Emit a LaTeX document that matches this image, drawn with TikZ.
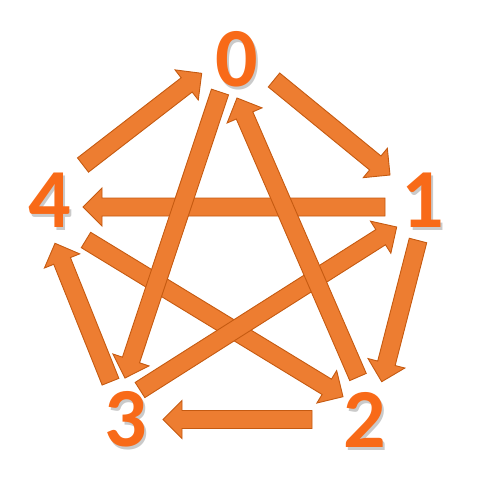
\documentclass[tikz,border=0pt]{standalone}
\usepackage{fontspec}
\setmainfont{Carlito}
\usetikzlibrary{calc}
\definecolor{arrfill}{RGB}{237,125,49}
\definecolor{arrdraw}{RGB}{197,90,17}
\definecolor{digitc}{RGB}{248,106,24}
\newcommand\blockarrow[2]{%
  \path (#1) coordinate (bT) (#2) coordinate (bP);
  \path ($(bP)!19pt!(bT)$) coordinate (bH);
  \path[arrowbody]
    ($(bT)!9pt!90:(bP)$) -- ($(bH)!9pt!90:(bP)$) -- ($(bH)!19pt!90:(bP)$)
    -- (bP) -- ($(bH)!19pt!-90:(bP)$) -- ($(bH)!9pt!-90:(bP)$)
    -- ($(bT)!9pt!-90:(bP)$) -- cycle;
}
\tikzset{
  arrowbody/.style={fill=arrfill, draw=arrdraw, line width=0.9pt, line join=miter},
  digit/.style={text=digitc, font=\bfseries\fontsize{84}{84}\selectfont, inner sep=0pt},
  digitshadow/.style={text=black!35, opacity=0.6, font=\bfseries\fontsize{84}{84}\selectfont, inner sep=0pt}
}
\begin{document}
\begin{tikzpicture}[x=1pt,y=-1pt]
\useasboundingbox (0,0) rectangle (504,498);
% digits with shadow
\foreach \n/\x/\y in {0/237/59, 1/423/200, 2/365/420, 3/126/419, 4/50/200}{
  \node[digitshadow] (s\n) at (\x+2,\y+3) {\n};
  \node[digit] (d\n) at (\x,\y) {\n};
}
% arrow end points
\coordinate (t40) at (83,165);    \coordinate (p40) at (201.7,73.3);
\coordinate (t01) at (274,80);    \coordinate (p01) at (390,175);
\coordinate (t12) at (418,240.5); \coordinate (p12) at (381.7,381.7);
\coordinate (t23) at (312,419.5); \coordinate (p23) at (163,419.5);
\coordinate (t34) at (110.5,381.7); \coordinate (p34) at (55,243.3);
\coordinate (t03) at (220,92);    \coordinate (p03) at (125,378);
\coordinate (t20) at (358,377);   \coordinate (p20) at (237,98);
\coordinate (t14) at (385,207);   \coordinate (p14) at (83,207);
\coordinate (t31) at (140,390);   \coordinate (p31) at (396.7,227);
\coordinate (t42) at (86,240);    \coordinate (p42) at (343,396.7);
% inner arrows
\blockarrow{t14}{p14}
\blockarrow{t42}{p42}
\blockarrow{t31}{p31}
\blockarrow{t03}{p03}
\blockarrow{t20}{p20}
% outer arrows
\blockarrow{t40}{p40}
\blockarrow{t01}{p01}
\blockarrow{t12}{p12}
\blockarrow{t23}{p23}
\blockarrow{t34}{p34}
\end{tikzpicture}
\end{document}
